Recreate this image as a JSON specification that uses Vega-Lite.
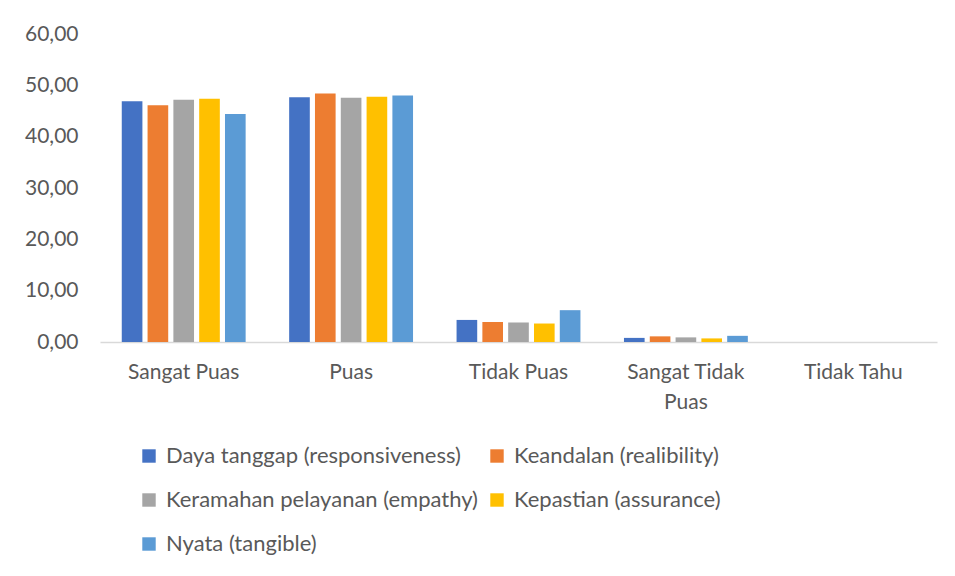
{
  "$schema": "https://vega.github.io/schema/vega-lite/v6.json",
  "autosize": {"type": "none"},
  "width": 837,
  "height": 308,
  "padding": {"left": 100, "top": 34, "right": 18, "bottom": 234},
  "background": "white",
  "config": {
    "view": {"stroke": null},
    "font": "Lato",
    "axis": {"labelFont": "Lato", "labelFontSize": 21, "labelColor": "#595959"},
    "legend": {"labelFont": "Lato", "labelFontSize": 22, "labelColor": "#595959"}
  },
  "data": {
    "values": [
      {"kategori": "Sangat Puas", "dimensi": "Daya tanggap (responsiveness)", "nilai": 46.9},
      {"kategori": "Sangat Puas", "dimensi": "Keandalan (realibility)", "nilai": 46.1},
      {"kategori": "Sangat Puas", "dimensi": "Keramahan pelayanan (empathy)", "nilai": 47.2},
      {"kategori": "Sangat Puas", "dimensi": "Kepastian (assurance)", "nilai": 47.4},
      {"kategori": "Sangat Puas", "dimensi": "Nyata (tangible)", "nilai": 44.4},
      {"kategori": "Puas", "dimensi": "Daya tanggap (responsiveness)", "nilai": 47.7},
      {"kategori": "Puas", "dimensi": "Keandalan (realibility)", "nilai": 48.4},
      {"kategori": "Puas", "dimensi": "Keramahan pelayanan (empathy)", "nilai": 47.6},
      {"kategori": "Puas", "dimensi": "Kepastian (assurance)", "nilai": 47.8},
      {"kategori": "Puas", "dimensi": "Nyata (tangible)", "nilai": 48.0},
      {"kategori": "Tidak Puas", "dimensi": "Daya tanggap (responsiveness)", "nilai": 4.3},
      {"kategori": "Tidak Puas", "dimensi": "Keandalan (realibility)", "nilai": 3.9},
      {"kategori": "Tidak Puas", "dimensi": "Keramahan pelayanan (empathy)", "nilai": 3.8},
      {"kategori": "Tidak Puas", "dimensi": "Kepastian (assurance)", "nilai": 3.6},
      {"kategori": "Tidak Puas", "dimensi": "Nyata (tangible)", "nilai": 6.2},
      {"kategori": "Sangat Tidak Puas", "dimensi": "Daya tanggap (responsiveness)", "nilai": 0.8},
      {"kategori": "Sangat Tidak Puas", "dimensi": "Keandalan (realibility)", "nilai": 1.1},
      {"kategori": "Sangat Tidak Puas", "dimensi": "Keramahan pelayanan (empathy)", "nilai": 0.9},
      {"kategori": "Sangat Tidak Puas", "dimensi": "Kepastian (assurance)", "nilai": 0.7},
      {"kategori": "Sangat Tidak Puas", "dimensi": "Nyata (tangible)", "nilai": 1.2},
      {"kategori": "Tidak Tahu", "dimensi": "Daya tanggap (responsiveness)", "nilai": 0},
      {"kategori": "Tidak Tahu", "dimensi": "Keandalan (realibility)", "nilai": 0},
      {"kategori": "Tidak Tahu", "dimensi": "Keramahan pelayanan (empathy)", "nilai": 0},
      {"kategori": "Tidak Tahu", "dimensi": "Kepastian (assurance)", "nilai": 0},
      {"kategori": "Tidak Tahu", "dimensi": "Nyata (tangible)", "nilai": 0}
    ]
  },
  "mark": {"type": "bar"},
  "encoding": {
    "x": {
      "field": "kategori",
      "type": "nominal",
      "sort": ["Sangat Puas", "Puas", "Tidak Puas", "Sangat Tidak Puas", "Tidak Tahu"],
      "scale": {"paddingInner": 0.26, "paddingOuter": 0.13},
      "axis": {
        "title": null,
        "labelAngle": 0,
        "ticks": false,
        "domainColor": "#D9D9D9",
        "domainWidth": 1.5,
        "labelPadding": 19,
        "labelLineHeight": 30,
        "labelLimit": 300,
        "labelExpr": "datum.label == 'Sangat Tidak Puas' ? ['Sangat Tidak', 'Puas'] : datum.label"
      }
    },
    "xOffset": {
      "field": "dimensi",
      "type": "nominal",
      "sort": ["Daya tanggap (responsiveness)", "Keandalan (realibility)", "Keramahan pelayanan (empathy)", "Kepastian (assurance)", "Nyata (tangible)"],
      "scale": {"paddingInner": 0.2}
    },
    "y": {
      "field": "nilai",
      "type": "quantitative",
      "scale": {"domain": [0, 60], "nice": false},
      "axis": {
        "title": null,
        "values": [0, 10, 20, 30, 40, 50, 60],
        "grid": false,
        "domain": false,
        "ticks": false,
        "labelPadding": 22,
        "labelExpr": "replace(format(datum.value, '.2f'), '.', ',')"
      }
    },
    "color": {
      "field": "dimensi",
      "type": "nominal",
      "sort": ["Daya tanggap (responsiveness)", "Keandalan (realibility)", "Keramahan pelayanan (empathy)", "Kepastian (assurance)", "Nyata (tangible)"],
      "scale": {
        "domain": ["Daya tanggap (responsiveness)", "Keandalan (realibility)", "Keramahan pelayanan (empathy)", "Kepastian (assurance)", "Nyata (tangible)"],
        "range": ["#4472C4", "#ED7D31", "#A5A5A5", "#FFC000", "#5B9BD5"]
      },
      "legend": {
        "title": null,
        "orient": "none",
        "direction": "horizontal",
        "legendX": 38,
        "legendY": 411,
        "columns": 2,
        "columnPadding": 8,
        "rowPadding": 22,
        "labelLimit": 500,
        "symbolType": "square",
        "symbolSize": 180,
        "symbolStrokeWidth": 0,
        "labelOffset": 6
      }
    }
  }
}
